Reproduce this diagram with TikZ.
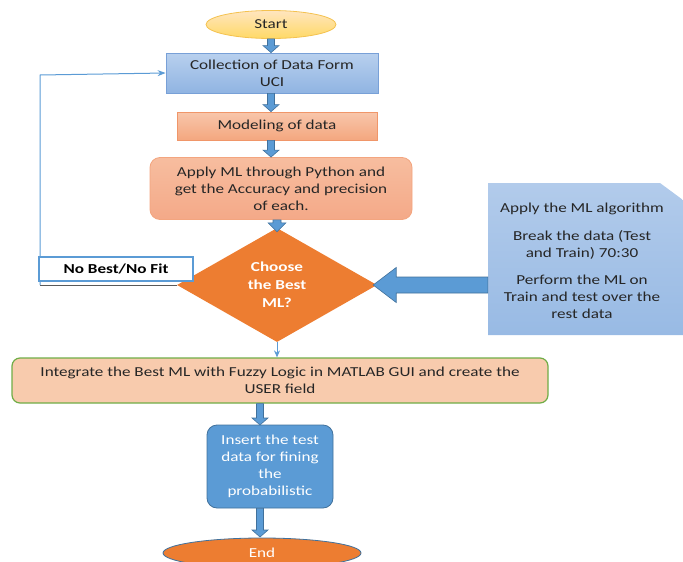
\documentclass[tikz,border=0pt]{standalone}
\usepackage{fontspec}
\setmainfont{Carlito}
\newfontfamily\widefont[FakeStretch=1.25]{Carlito}
\usetikzlibrary{shapes.geometric,arrows.meta,calc}
\definecolor{txt}{HTML}{262626}
\definecolor{ablue}{HTML}{5B9BD5}
\definecolor{dblue}{HTML}{41719C}
\definecolor{orng}{HTML}{ED7D31}
\definecolor{grn}{HTML}{70AD47}
\newcommand{\blockarrow}[6][]{%
  \coordinate (bA) at (#2); \coordinate (bB) at (#3);
  \coordinate (bH) at ($(bB)!#6!(bA)$);
  \filldraw[barrow,#1] ($(bA)!#4!90:(bB)$) -- ($(bH)!#4!-90:(bA)$) -- ($(bH)!#5!-90:(bA)$) -- (bB)
     -- ($(bH)!#5!90:(bA)$) -- ($(bH)!#4!90:(bA)$) -- ($(bA)!#4!-90:(bB)$) -- cycle;}
\tikzset{
  barrow/.style={fill=ablue,draw=dblue,line width=0.6pt,line join=miter},
  base/.style={font=\widefont\fontsize{13.7}{17}\selectfont,text=txt,align=center,inner sep=0pt},
  thinblue/.style={draw=ablue,line width=1pt},
}
\begin{document}
\begin{tikzpicture}[x=1pt,y=-1pt]
\useasboundingbox (0,0) rectangle (683,562);
% nodes
\node[base,ellipse,minimum width=130pt,minimum height=28pt,top color=yellow!20!orange!25!white,bottom color={rgb,255:red,255;green,217;blue,102},draw={rgb,255:red,244;green,194;blue,80},line width=0.8pt] (start) at (271,24.5) {Start};
\node[base,rectangle,minimum width=212pt,minimum height=40pt,top color={rgb,255:red,184;green,208;blue,238},bottom color={rgb,255:red,144;green,180;blue,226},draw={rgb,255:red,120;green,160;blue,215},line width=0.8pt] (coll) at (272,73) {Collection of Data Form\\UCI};
\node[base,rectangle,minimum width=200pt,minimum height=28pt,top color={rgb,255:red,248;green,198;blue,171},bottom color={rgb,255:red,244;green,167;blue,127},draw={rgb,255:red,240;green,150;blue,105},line width=0.8pt] (model) at (277,126) {Modeling of data};
\node[base,rectangle,rounded corners=10pt,minimum width=262pt,minimum height=62pt,top color={rgb,255:red,247;green,189;blue,159},bottom color={rgb,255:red,244;green,169;blue,136},draw={rgb,255:red,243;green,165;blue,127},line width=0.8pt] (apply) at (281,188.5) {Apply ML through Python and\\get the Accuracy and precision\\of each.};
\node[base,diamond,minimum width=200pt,minimum height=114pt,fill=orng,text=white,font=\widefont\fontsize{13.7}{18}\selectfont\bfseries] (dia) at (277,285) {Choose\\the Best\\ML?};
% feedback line
\coordinate (fb1) at (40,285);
\coordinate (fb2) at (40,75);
\draw[draw=black!65,line width=1pt] (dia.west) -- (fb1);
\draw[thinblue,-{Stealth[length=8pt,width=6pt]}] (fb1) -- (fb2) -- (coll.west);
\node[base,rectangle,minimum width=154pt,minimum height=24pt,fill=white,draw=ablue,line width=1.2pt,font=\widefont\fontsize{13.7}{16}\selectfont\bfseries,text=black] (nobest) at (116,269) {No Best/No Fit};
% callout
\node[base,rectangle,minimum width=195pt,minimum height=152pt,
  path picture={
    \shade[top color={rgb,255:red,178;green,203;blue,235},bottom color={rgb,255:red,152;green,186;blue,228}]
      (path picture bounding box.south west) -- (path picture bounding box.north west)
      -- ([xshift=-23pt]path picture bounding box.north east) -- ([yshift=-17pt]path picture bounding box.north east)
      -- (path picture bounding box.south east) -- cycle;}] (callout) at (585.5,259) {};
\node[base,anchor=north] (ct) at (582,202.5) {Apply the ML algorithm\\[11pt]Break the data (Test\\and Train) 70:30\\[10pt]Perform the ML on\\Train and test over the\\rest data};
\node[base,rectangle,rounded corners=8pt,minimum width=536pt,minimum height=45pt,fill={rgb,255:red,248;green,203;blue,173},draw=grn,line width=1.2pt] (integ) at (280,380.5) {Integrate the Best ML with Fuzzy Logic in MATLAB GUI and create the\\USER field};
\node[base,rectangle,rounded corners=10pt,minimum width=126pt,minimum height=83pt,fill=ablue,draw=dblue,line width=0.8pt,text=white] (insert) at (270,466.5) {Insert the test\\data for fining\\the\\probabilistic};
\node[base,ellipse,minimum width=198pt,minimum height=30pt,fill=orng,draw=dblue,line width=0.8pt,text=white] (endn) at (262,553) {End};
% block arrows
\blockarrow{start.south}{start.south |- coll.north}{3.5pt}{8pt}{7pt}
\blockarrow{coll.south -| start.south}{start.south |- model.north}{3.5pt}{8pt}{7pt}
\blockarrow{model.south -| start.south}{start.south |- apply.north}{3.5pt}{8pt}{7pt}
\blockarrow{apply.south -| dia.north}{$(dia.north)+(0,4)$}{4pt}{9pt}{9pt}
\blockarrow{callout.west |- dia.east}{$(dia.east)+(-4,0)$}{8pt}{17.5pt}{23pt}
\blockarrow{integ.south -| 260,0}{260,425}{3.5pt}{8pt}{7pt}
\blockarrow{insert.south -| 260,0}{260,537}{3.5pt}{8pt}{7pt}
\draw[thinblue,-{Stealth[length=7pt,width=6pt]}] (dia.south) -- (integ.north -| dia.south);
\end{tikzpicture}
\end{document}
